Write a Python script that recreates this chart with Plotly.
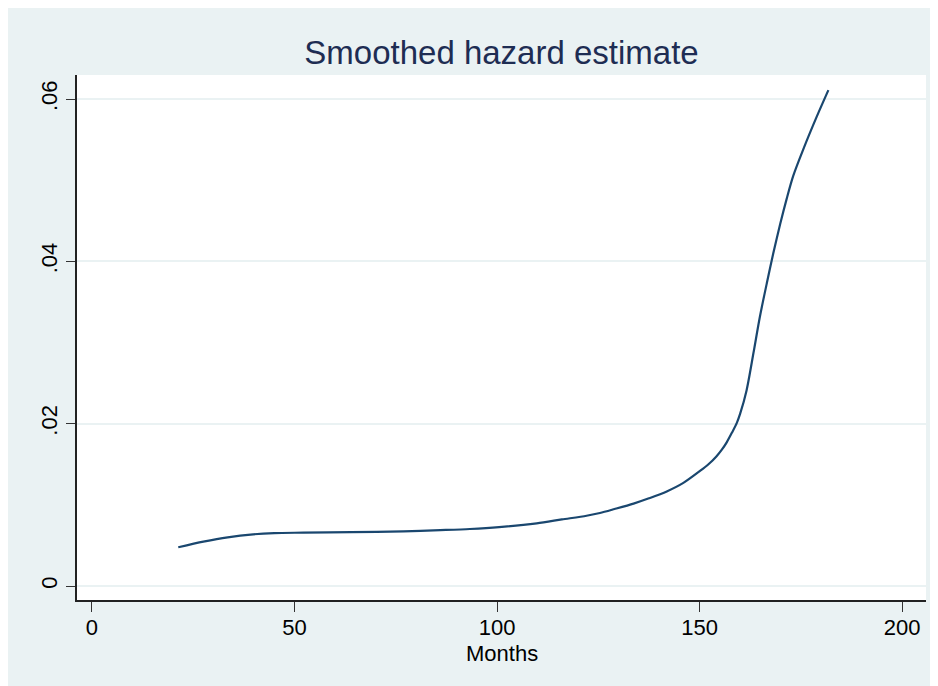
import plotly.graph_objects as go

months = [21.3, 27.5, 33.5, 39.8, 45, 52.2, 64, 76.9, 86, 93.3, 100.5, 109.8, 116, 122.1,
          125.4, 129, 133.7, 137.5, 141.9, 146, 150.1, 152.2, 154.2, 155.5, 156.7, 158,
          159.2, 160.0, 161.6, 163.3, 164.9, 166.6, 168.2, 169.9, 171.5, 173.1, 175.6,
          178.9, 181.8]
hazard = [0.00477, 0.00546, 0.00600, 0.00637, 0.00652, 0.00657, 0.00664, 0.00673, 0.00688,
          0.00702, 0.00725, 0.00772, 0.0082, 0.00866, 0.00899, 0.00948, 0.01015, 0.0108,
          0.01165, 0.0127, 0.01417, 0.0150, 0.0160, 0.0168, 0.0177, 0.0189, 0.0201, 0.0212,
          0.0241, 0.0287, 0.0332, 0.0373, 0.0410, 0.0446, 0.0477, 0.0505, 0.0538, 0.0578,
          0.0611]

x_ticks = [0, 50, 100, 150, 200]
y_ticks = [0, 0.02, 0.04, 0.06]
y_ticktext = ["0", ".02", ".04", ".06"]
x_title = "Months"

W, H = 938, 686
FONT = "Liberation Sans, Arial, sans-serif"
BG = "#EAF2F3"
MT, MB = 67, 94
PH = H - MT - MB

fig = go.Figure()
fig.add_trace(go.Scatter(
    x=months, y=hazard, mode="lines",
    line=dict(color="#1A476F", width=2.2, shape="spline", smoothing=0.8),
    showlegend=False, hoverinfo="skip",
))

fig.update_layout(
    width=W, height=H,
    margin=dict(l=69, r=20, t=MT, b=MB, pad=0),
    paper_bgcolor=BG, plot_bgcolor="white",
    font=dict(family=FONT, size=22, color="black"),
    title=dict(text="Smoothed hazard estimate", x=0.5, xanchor="center", xref="paper",
               y=1 - 44 / H, yanchor="middle", yref="container",
               font=dict(family=FONT, size=33, color="#1E2D53")),
    annotations=[dict(text=x_title, xref="paper", yref="paper", x=0.5, y=-(645.5 - (H - MB)) / PH,
                      xanchor="center", yanchor="middle", showarrow=False,
                      font=dict(family=FONT, size=22, color="black"))],
    xaxis=dict(
        range=[-3.7, 205.9], tickvals=x_ticks, ticks="outside", ticklen=10, tickwidth=1.3,
        tickcolor="#333333", showline=True, linecolor="#222222", linewidth=1.5,
        showgrid=False, zeroline=False, ticklabelstandoff=-3,
        tickfont=dict(family=FONT, size=22, color="black"),
    ),
    yaxis=dict(
        range=[-0.001725, 0.06296], tickvals=y_ticks, ticktext=y_ticktext, tickangle=-90,
        ticks="outside", ticklen=9, tickwidth=1.3, tickcolor="#333333",
        showline=True, linecolor="#222222", linewidth=1.5,
        showgrid=True, gridcolor=BG, gridwidth=1.5, zeroline=False,
        tickfont=dict(family=FONT, size=22, color="black"),
    ),
)

fig.write_html("out.html")
